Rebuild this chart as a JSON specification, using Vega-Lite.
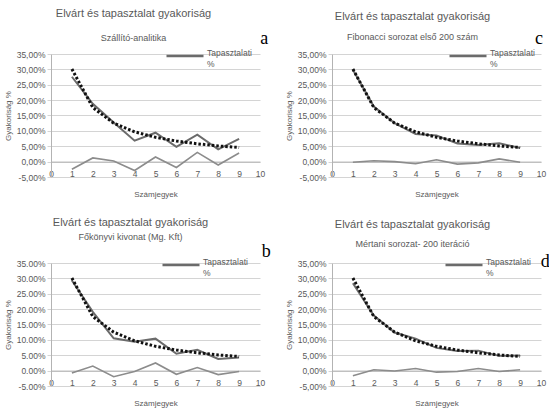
{
  "$schema": "https://vega.github.io/schema/vega-lite/v6.json",
  "background": "white",
  "padding": {"left": 4, "top": 7, "right": 0, "bottom": 0},
  "columns": 2,
  "spacing": {"row": 86, "column": 72},
  "bounds": "flush",
  "resolve": {"scale": {"color": "independent"}},
  "datasets": {
    "d": [
      {"p": "a", "d": 1, "exp": 0.301, "tap": 0.276, "elt": -0.025},
      {"p": "a", "d": 2, "exp": 0.176, "tap": 0.188, "elt": 0.012},
      {"p": "a", "d": 3, "exp": 0.125, "tap": 0.127, "elt": 0.002},
      {"p": "a", "d": 4, "exp": 0.097, "tap": 0.068, "elt": -0.029},
      {"p": "a", "d": 5, "exp": 0.079, "tap": 0.094, "elt": 0.015},
      {"p": "a", "d": 6, "exp": 0.067, "tap": 0.048, "elt": -0.019},
      {"p": "a", "d": 7, "exp": 0.058, "tap": 0.088, "elt": 0.030},
      {"p": "a", "d": 8, "exp": 0.051, "tap": 0.040, "elt": -0.011},
      {"p": "a", "d": 9, "exp": 0.046, "tap": 0.074, "elt": 0.028},
      {"p": "c", "d": 1, "exp": 0.301, "tap": 0.299, "elt": -0.002},
      {"p": "c", "d": 2, "exp": 0.176, "tap": 0.179, "elt": 0.003},
      {"p": "c", "d": 3, "exp": 0.125, "tap": 0.125, "elt": 0.000},
      {"p": "c", "d": 4, "exp": 0.097, "tap": 0.090, "elt": -0.007},
      {"p": "c", "d": 5, "exp": 0.079, "tap": 0.085, "elt": 0.006},
      {"p": "c", "d": 6, "exp": 0.067, "tap": 0.059, "elt": -0.008},
      {"p": "c", "d": 7, "exp": 0.058, "tap": 0.054, "elt": -0.004},
      {"p": "c", "d": 8, "exp": 0.051, "tap": 0.060, "elt": 0.009},
      {"p": "c", "d": 9, "exp": 0.046, "tap": 0.044, "elt": -0.002},
      {"p": "b", "d": 1, "exp": 0.301, "tap": 0.293, "elt": -0.008},
      {"p": "b", "d": 2, "exp": 0.176, "tap": 0.191, "elt": 0.015},
      {"p": "b", "d": 3, "exp": 0.125, "tap": 0.105, "elt": -0.020},
      {"p": "b", "d": 4, "exp": 0.097, "tap": 0.094, "elt": -0.003},
      {"p": "b", "d": 5, "exp": 0.079, "tap": 0.104, "elt": 0.025},
      {"p": "b", "d": 6, "exp": 0.067, "tap": 0.055, "elt": -0.012},
      {"p": "b", "d": 7, "exp": 0.058, "tap": 0.068, "elt": 0.010},
      {"p": "b", "d": 8, "exp": 0.051, "tap": 0.038, "elt": -0.013},
      {"p": "b", "d": 9, "exp": 0.046, "tap": 0.043, "elt": -0.003},
      {"p": "d", "d": 1, "exp": 0.301, "tap": 0.284, "elt": -0.017},
      {"p": "d", "d": 2, "exp": 0.176, "tap": 0.179, "elt": 0.003},
      {"p": "d", "d": 3, "exp": 0.125, "tap": 0.124, "elt": -0.001},
      {"p": "d", "d": 4, "exp": 0.097, "tap": 0.104, "elt": 0.007},
      {"p": "d", "d": 5, "exp": 0.079, "tap": 0.074, "elt": -0.005},
      {"p": "d", "d": 6, "exp": 0.067, "tap": 0.064, "elt": -0.003},
      {"p": "d", "d": 7, "exp": 0.058, "tap": 0.065, "elt": 0.007},
      {"p": "d", "d": 8, "exp": 0.051, "tap": 0.048, "elt": -0.003},
      {"p": "d", "d": 9, "exp": 0.046, "tap": 0.049, "elt": 0.003}
    ]
  },
  "concat": [
    {
      "width": 209, "height": 123,
      "title": {"text": "Elvárt és tapasztalat gyakoriság", "subtitle": "Szállító-analitika", "dx": -22, "offset": -13, "subtitlePadding": 15},
      "data": {"name": "d"},
      "transform": [{"filter": "datum.p === 'a'"}],
      "layer": [
        {
          "mark": {"type": "line", "strokeWidth": 2},
          "encoding": {
            "x": {"field": "d", "type": "quantitative", "scale": {"domain": [0, 10], "nice": false}, "axis": {"title": "Számjegyek", "format": "d", "values": [0,1,2,3,4,5,6,7,8,9,10], "tickCount": 30, "labelOverlap": false, "grid": false, "ticks": false, "offset": -15.4, "labelPadding": 8, "titlePadding": 12}},
            "y": {"field": "tap", "type": "quantitative", "scale": {"domain": [-0.05, 0.35], "nice": false}, "axis": {"title": "Gyakoriság %", "values": [-0.05,0,0.05,0.1,0.15,0.2,0.25,0.3,0.35], "tickCount": 30, "labelOverlap": false, "grid": true, "ticks": true, "tickSize": 4, "labelExpr": "replace(replace(format(datum.value, '.2%'), '.', ','), '−', '-')", "titlePadding": 4}},
            "color": {"datum": "Tapasztalati %", "scale": {"range": ["#6b6b6b"]}, "legend": {"orient": "none", "legendX": 114, "legendY": -18, "title": null, "labelExpr": "['Tapasztalati', '%']"}}
          }
        },
        {"mark": {"type": "line", "color": "#8c8c8c", "strokeWidth": 1.6}, "encoding": {"x": {"field": "d", "type": "quantitative"}, "y": {"field": "elt", "type": "quantitative"}}},
        {"mark": {"type": "line", "color": "#111111", "strokeWidth": 3, "strokeDash": [2.5, 2]}, "encoding": {"x": {"field": "d", "type": "quantitative"}, "y": {"field": "exp", "type": "quantitative"}}},
        {"data": {"values": [{}]}, "mark": {"type": "text", "font": "Liberation Serif", "fontSize": 18, "color": "#000000"}, "encoding": {"x": {"datum": 10.2}, "y": {"datum": 0.40}, "text": {"value": "a"}}}
      ]
    },
    {
      "width": 209, "height": 123,
      "title": {"text": "Elvárt és tapasztalat gyakoriság", "subtitle": "Fibonacci sorozat első 200 szám", "dx": -24, "offset": -12, "subtitlePadding": 11},
      "data": {"name": "d"},
      "transform": [{"filter": "datum.p === 'c'"}],
      "layer": [
        {
          "mark": {"type": "line", "strokeWidth": 2},
          "encoding": {
            "x": {"field": "d", "type": "quantitative", "scale": {"domain": [0, 10], "nice": false}, "axis": {"title": "Számjegyek", "format": "d", "values": [0,1,2,3,4,5,6,7,8,9,10], "tickCount": 30, "labelOverlap": false, "grid": false, "ticks": false, "offset": -15.4, "labelPadding": 8, "titlePadding": 12}},
            "y": {"field": "tap", "type": "quantitative", "scale": {"domain": [-0.05, 0.35], "nice": false}, "axis": {"title": "Gyakoriság %", "values": [-0.05,0,0.05,0.1,0.15,0.2,0.25,0.3,0.35], "tickCount": 30, "labelOverlap": false, "grid": true, "ticks": true, "tickSize": 4, "labelExpr": "replace(replace(format(datum.value, '.2%'), '.', ','), '−', '-')", "titlePadding": 4}},
            "color": {"datum": "Tapasztalati %", "scale": {"range": ["#6b6b6b"]}, "legend": {"orient": "none", "legendX": 116, "legendY": -18, "title": null, "labelExpr": "['Tapasztalati', '%']"}}
          }
        },
        {"mark": {"type": "line", "color": "#8c8c8c", "strokeWidth": 1.6}, "encoding": {"x": {"field": "d", "type": "quantitative"}, "y": {"field": "elt", "type": "quantitative"}}},
        {"mark": {"type": "line", "color": "#111111", "strokeWidth": 3, "strokeDash": [2.5, 2]}, "encoding": {"x": {"field": "d", "type": "quantitative"}, "y": {"field": "exp", "type": "quantitative"}}},
        {"data": {"values": [{}]}, "mark": {"type": "text", "font": "Liberation Serif", "fontSize": 18, "color": "#000000"}, "encoding": {"x": {"datum": 9.9}, "y": {"datum": 0.40}, "text": {"value": "c"}}}
      ]
    },
    {
      "width": 209, "height": 123,
      "title": {"text": "Elvárt és tapasztalat gyakoriság", "subtitle": "                Főkönyvi kivonat (Mg. Kft)", "dx": -25, "offset": 1, "subtitlePadding": 5},
      "data": {"name": "d"},
      "transform": [{"filter": "datum.p === 'b'"}],
      "layer": [
        {
          "mark": {"type": "line", "strokeWidth": 2},
          "encoding": {
            "x": {"field": "d", "type": "quantitative", "scale": {"domain": [0, 10], "nice": false}, "axis": {"title": "Számjegyek", "format": "d", "values": [0,1,2,3,4,5,6,7,8,9,10], "tickCount": 30, "labelOverlap": false, "grid": false, "ticks": false, "offset": -15.4, "labelPadding": 8, "titlePadding": 12}},
            "y": {"field": "tap", "type": "quantitative", "scale": {"domain": [-0.05, 0.35], "nice": false}, "axis": {"title": "Gyakoriság %", "values": [-0.05,0,0.05,0.1,0.15,0.2,0.25,0.3,0.35], "tickCount": 30, "labelOverlap": false, "grid": true, "ticks": true, "tickSize": 4, "labelExpr": "replace(format(datum.value, '.2%'), '−', '-')", "titlePadding": 4}},
            "color": {"datum": "Tapasztalati %", "scale": {"range": ["#6b6b6b"]}, "legend": {"orient": "none", "legendX": 110, "legendY": -18, "title": null, "labelExpr": "['Tapasztalati', '%']"}}
          }
        },
        {"mark": {"type": "line", "color": "#8c8c8c", "strokeWidth": 1.6}, "encoding": {"x": {"field": "d", "type": "quantitative"}, "y": {"field": "elt", "type": "quantitative"}}},
        {"mark": {"type": "line", "color": "#111111", "strokeWidth": 3, "strokeDash": [2.5, 2]}, "encoding": {"x": {"field": "d", "type": "quantitative"}, "y": {"field": "exp", "type": "quantitative"}}},
        {"data": {"values": [{}]}, "mark": {"type": "text", "font": "Liberation Serif", "fontSize": 18, "color": "#000000"}, "encoding": {"x": {"datum": 10.3}, "y": {"datum": 0.385}, "text": {"value": "b"}}}
      ]
    },
    {
      "width": 209, "height": 123,
      "title": {"text": "Elvárt és tapasztalat gyakoriság", "subtitle": "Mértani sorozat- 200 iteráció", "dx": -24, "offset": -4, "subtitlePadding": 10},
      "data": {"name": "d"},
      "transform": [{"filter": "datum.p === 'd'"}],
      "layer": [
        {
          "mark": {"type": "line", "strokeWidth": 2},
          "encoding": {
            "x": {"field": "d", "type": "quantitative", "scale": {"domain": [0, 10], "nice": false}, "axis": {"title": "Számjegyek", "format": "d", "values": [0,1,2,3,4,5,6,7,8,9,10], "tickCount": 30, "labelOverlap": false, "grid": false, "ticks": false, "offset": -15.4, "labelPadding": 8, "titlePadding": 12}},
            "y": {"field": "tap", "type": "quantitative", "scale": {"domain": [-0.05, 0.35], "nice": false}, "axis": {"title": "Gyakoriság %", "values": [-0.05,0,0.05,0.1,0.15,0.2,0.25,0.3,0.35], "tickCount": 30, "labelOverlap": false, "grid": true, "ticks": true, "tickSize": 4, "labelExpr": "replace(replace(format(datum.value, '.2%'), '.', ','), '−', '-')", "titlePadding": 4}},
            "color": {"datum": "Tapasztalati %", "scale": {"range": ["#6b6b6b"]}, "legend": {"orient": "none", "legendX": 112, "legendY": -18, "title": null, "labelExpr": "['Tapasztalati', '%']"}}
          }
        },
        {"mark": {"type": "line", "color": "#8c8c8c", "strokeWidth": 1.6}, "encoding": {"x": {"field": "d", "type": "quantitative"}, "y": {"field": "elt", "type": "quantitative"}}},
        {"mark": {"type": "line", "color": "#111111", "strokeWidth": 3, "strokeDash": [2.5, 2]}, "encoding": {"x": {"field": "d", "type": "quantitative"}, "y": {"field": "exp", "type": "quantitative"}}},
        {"data": {"values": [{}]}, "mark": {"type": "text", "font": "Liberation Serif", "fontSize": 18, "color": "#000000"}, "encoding": {"x": {"datum": 10.2}, "y": {"datum": 0.353}, "text": {"value": "d"}}}
      ]
    }
  ],
  "config": {
    "view": {"stroke": null},
    "font": "Liberation Sans",
    "title": {"font": "Liberation Sans", "fontSize": 11, "fontWeight": "normal", "color": "#595959", "subtitleFont": "Liberation Sans", "subtitleFontSize": 9, "subtitleColor": "#595959", "anchor": "middle", "frame": "group"},
    "axis": {"labelFont": "Liberation Sans", "labelFontSize": 8.5, "labelColor": "#595959", "titleFont": "Liberation Sans", "titleFontSize": 8, "titleFontWeight": "normal", "titleColor": "#595959", "gridColor": "#d4d4d4", "gridWidth": 1, "domainColor": "#b3b3b3", "tickColor": "#d4d4d4"},
    "axisX": {"labelAngle": 0, "labelFlush": false},
    "axisY": {"labelPadding": 2},
    "legend": {"symbolType": "stroke", "symbolSize": 1369, "symbolStrokeWidth": 2.5, "labelFont": "Liberation Sans", "labelFontSize": 8.5, "labelColor": "#595959", "labelBaseline": "alphabetic", "labelOffset": 2, "padding": 0}
  }
}
